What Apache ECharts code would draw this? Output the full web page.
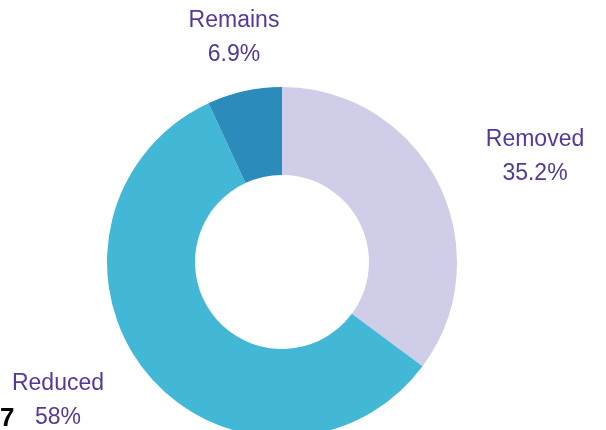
<!DOCTYPE html>
<html>
<head>
<meta charset="utf-8">
<script src="https://cdn.jsdelivr.net/npm/echarts@6/dist/echarts.min.js"></script>
<style>
  html, body { margin: 0; padding: 0; background: #fff; }
  #chart { width: 606px; height: 430px; }
</style>
</head>
<body>
<div id="chart"></div>
<script>
// 数据
const names = ['Removed', 'Reduced', 'Remains'];
const values = [35.2, 58, 6.9];
const colors = ['#cfcde8', '#42b8d6', '#2b8bbb'];

// 标签中心位置（像素）
const labelPos = [[535, 157], [58, 401], [234, 38]];

const chart = echarts.init(document.getElementById('chart'), null, { renderer: 'canvas' });

const option = {
  animation: false,
  color: colors,
  graphic: [{
    type: 'text',
    left: 0,
    top: 406,
    style: {
      text: '7',
      font: 'bold 26px "Liberation Sans", Arial, sans-serif',
      fill: '#000'
    }
  }],
  series: [{
    type: 'pie',
    center: [282, 262],
    radius: [87, 175],
    startAngle: 90,
    clockwise: true,
    data: names.map((n, i) => ({ name: n, value: values[i] })),
    itemStyle: { borderWidth: 0 },
    emphasis: { disabled: true },
    label: {
      show: true,
      position: 'inside',
      formatter: '{b}\n{c}%',
      color: '#55389a',
      fontFamily: '"Liberation Sans", Arial, sans-serif',
      fontSize: 23,
      lineHeight: 34,
      overflow: 'none'
    },
    labelLine: { show: false },
    labelLayout: function (params) {
      const p = labelPos[params.dataIndex];
      return { x: p[0], y: p[1], align: 'center', verticalAlign: 'middle' };
    }
  }]
};

chart.setOption(option);
</script>
</body>
</html>
